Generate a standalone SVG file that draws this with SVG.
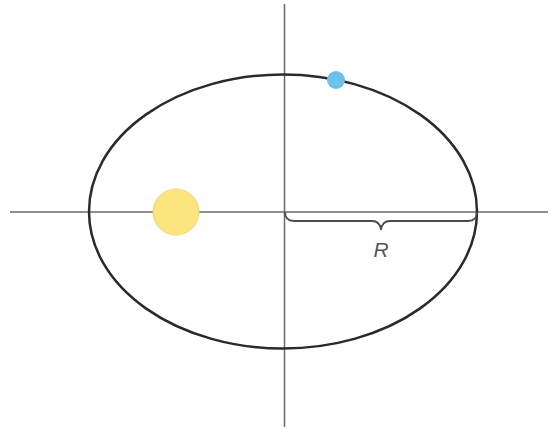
<svg xmlns="http://www.w3.org/2000/svg" width="551" height="429" viewBox="0 0 551 429">
<style>
.axis{stroke:#6a6a6a;stroke-width:1.5;fill:none}
.orbit{stroke:#2a2a2a;stroke-width:2.5;fill:none}
.brace{stroke:#4a4a4a;stroke-width:1.8;fill:none}
.lbl{font-family:"Liberation Sans",Arial,sans-serif;font-style:italic;font-size:21px;fill:#555}
</style>
<rect width="551" height="429" fill="#fff"/>
<g id="connectors">
<line class="axis" x1="10" y1="212" x2="548" y2="212"/>
<line class="axis" x1="284.5" y1="4" x2="284.5" y2="427"/>
</g>
<g id="orbit"><ellipse class="orbit" cx="283" cy="211.5" rx="194" ry="137"/></g>
<g id="sun"><circle cx="176" cy="212" r="23" fill="#fbe57c" stroke="#e9d387" stroke-width="1"/></g>
<g id="planet"><circle cx="336" cy="80" r="9" fill="#6cc0e9"/></g>
<g id="brace">
<path class="brace" d="M285 212 Q285 221 294 221 L372 221 Q380 221 381 230 Q382 221 390 221 L468 221 Q477 221 477 212"/>
</g>
<g id="label"><text class="lbl" x="381" y="257" text-anchor="middle">R</text></g>
</svg>
